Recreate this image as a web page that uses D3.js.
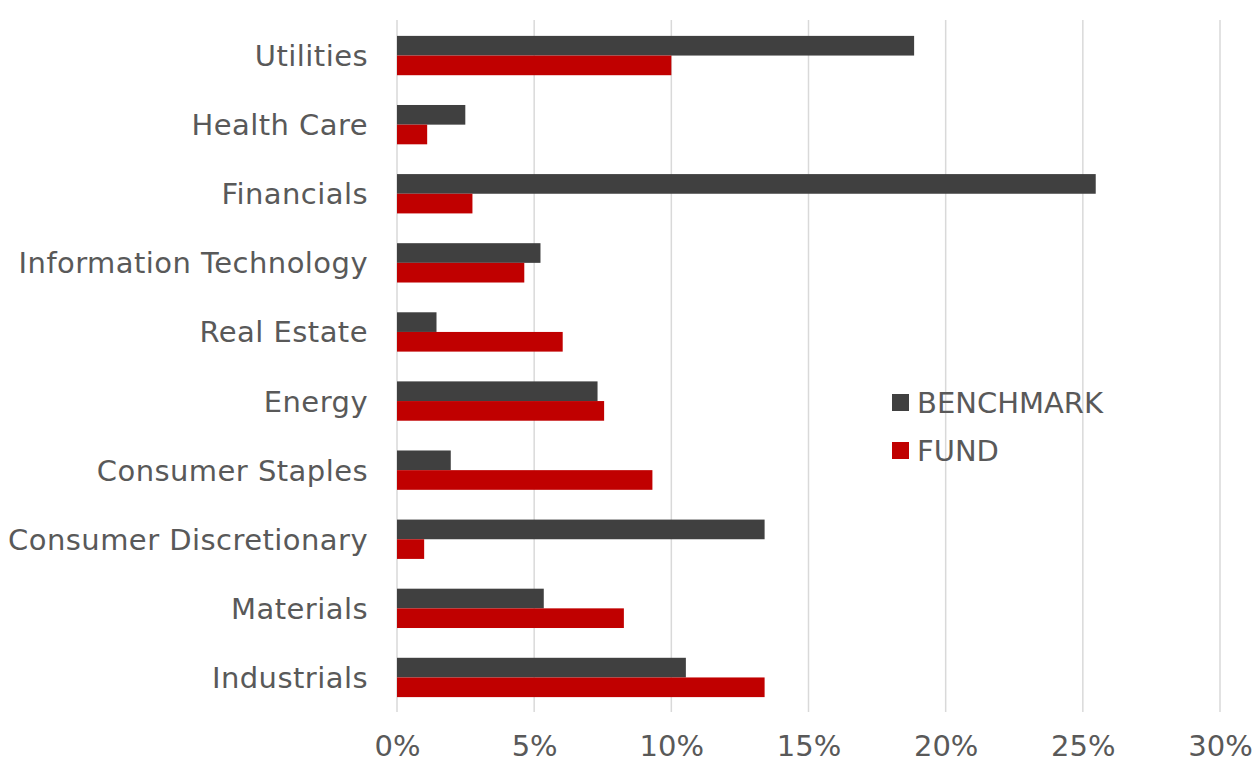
<!DOCTYPE html>
<html>
<head>
<meta charset="utf-8">
<script src="https://cdn.jsdelivr.net/npm/d3@7"></script>
<style>
  body { margin: 0; background: #fff; }
  text { font-family: "DejaVu Sans", Verdana, sans-serif; fill: #595959; }
</style>
</head>
<body>
<svg id="chart" width="1257" height="762"></svg>
<script>
// sectors, top to bottom
var sectors = ["Utilities", "Health Care", "Financials", "Information Technology", "Real Estate",
               "Energy", "Consumer Staples", "Consumer Discretionary", "Materials", "Industrials"];
var benchmark = [18.85, 2.49, 25.47, 5.23, 1.44, 7.31, 1.96, 13.4, 5.35, 10.53];
var fund      = [10.0, 1.10, 2.75, 4.64, 6.04, 7.55, 9.31, 0.99, 8.27, 13.4];
var seriesNames = ["BENCHMARK", "FUND"];
var seriesColors = ["#404040", "#c00000"];
var xTicks = [0, 5, 10, 15, 20, 25, 30];

var svg = d3.select("#chart");
var plotLeft = 397, plotRight = 1220, plotTop = 21, plotBottom = 712;
var fontSize = 29;

var x = d3.scaleLinear().domain([0, 30]).range([plotLeft, plotRight]);
var y0 = d3.scaleBand().domain(sectors).range([plotTop, plotBottom]).padding(0);
var y1 = d3.scaleBand().domain(seriesNames).range([0, y0.bandwidth()])
    .paddingInner(0).paddingOuter(0.757);

// gridlines
svg.append("g").selectAll("line")
  .data(xTicks)
  .enter().append("line")
    .attr("x1", function(d) { return x(d); })
    .attr("x2", function(d) { return x(d); })
    .attr("y1", plotTop - 1)
    .attr("y2", plotBottom)
    .attr("stroke", "#d9d9d9")
    .attr("stroke-width", 1.5);

var rows = sectors.map(function(s, i) {
  return {sector: s, values: [benchmark[i], fund[i]]};
});

var groups = svg.append("g").selectAll("g")
  .data(rows)
  .enter().append("g")
    .attr("transform", function(d) { return "translate(0," + y0(d.sector) + ")"; });

groups.selectAll("rect")
  .data(function(d) { return d.values.map(function(v, k) { return {key: seriesNames[k], value: v, k: k}; }); })
  .enter().append("rect")
    .attr("x", x(0))
    .attr("y", function(d) { return y1(d.key); })
    .attr("width", function(d) { return x(d.value) - x(0); })
    .attr("height", y1.bandwidth())
    .attr("fill", function(d) { return seriesColors[d.k]; });

// category labels
var yAxis = svg.append("g")
    .attr("transform", "translate(" + plotLeft + ",0)")
    .call(d3.axisLeft(y0).tickSize(0).tickPadding(29));
yAxis.select(".domain").remove();
yAxis.attr("font-size", null).attr("font-family", null);
yAxis.selectAll("text")
    .attr("font-size", fontSize)
    .attr("letter-spacing", 0.45)
    .attr("fill", null)
    .attr("dy", "0.36em");

// x tick labels
var xAxis = svg.append("g")
    .attr("transform", "translate(0," + plotBottom + ")")
    .call(d3.axisBottom(x).tickValues(xTicks).tickSize(0).tickPadding(23)
      .tickFormat(function(d) { return d + "%"; }));
xAxis.select(".domain").remove();
xAxis.attr("font-size", null).attr("font-family", null);
xAxis.selectAll("text")
    .attr("font-size", fontSize)
    .attr("fill", null);

// legend
var legend = svg.append("g").selectAll("g")
  .data(seriesNames)
  .enter().append("g")
    .attr("transform", function(d, i) { return "translate(892," + (394 + i * 48) + ")"; });
legend.append("rect")
    .attr("width", 17)
    .attr("height", 17)
    .attr("fill", function(d, i) { return seriesColors[i]; });
legend.append("text")
    .attr("x", 25)
    .attr("y", 8.5)
    .attr("dy", "0.36em")
    .attr("font-size", fontSize)
    .text(function(d) { return d; });
</script>
</body>
</html>
